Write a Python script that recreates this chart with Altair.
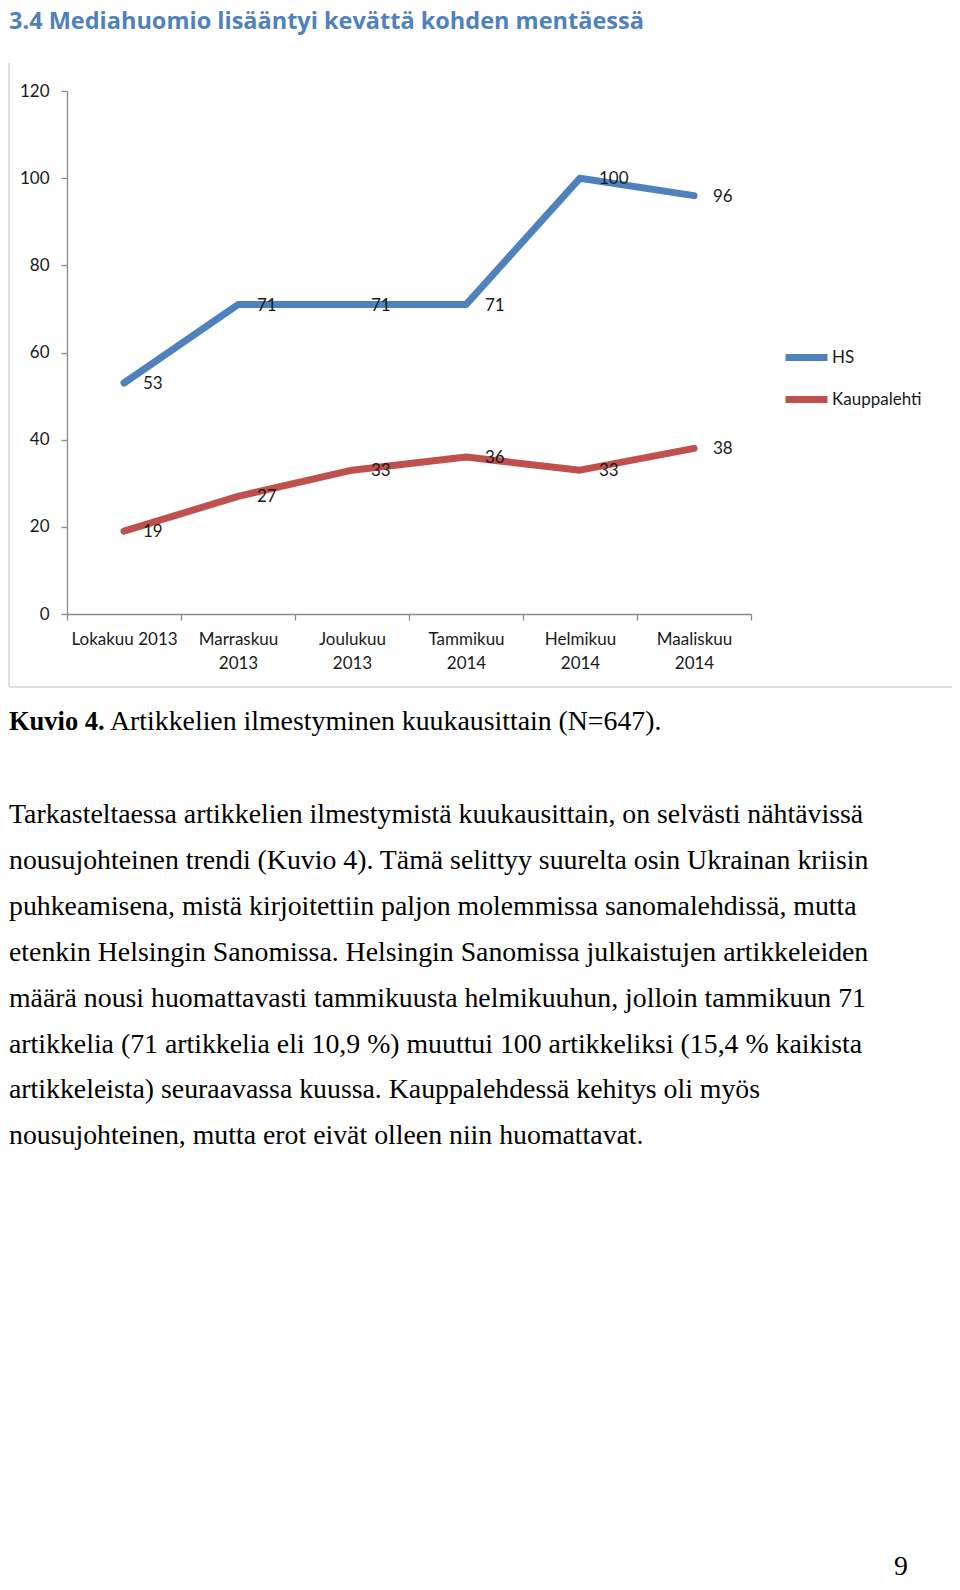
import altair as alt
import pandas as pd

# ---- data ----
months = ["Lokakuu 2013", "Marraskuu 2013", "Joulukuu 2013",
          "Tammikuu 2014", "Helmikuu 2014", "Maaliskuu 2014"]
hs_values = [53, 71, 71, 71, 100, 96]
kl_values = [19, 27, 33, 36, 33, 38]
series = ["HS", "Kauppalehti"]
colors = ["#4F81BD", "#C0504D"]
y_ticks = [0, 20, 40, 60, 80, 100, 120]

title_text = "3.4 Mediahuomio lisääntyi kevättä kohden mentäessä"
caption_bold = "Kuvio 4."
caption_rest = "Artikkelien ilmestyminen kuukausittain (N=647)."
paragraph = [
    "Tarkasteltaessa artikkelien ilmestymistä kuukausittain, on selvästi nähtävissä",
    "nousujohteinen trendi (Kuvio 4). Tämä selittyy suurelta osin Ukrainan kriisin",
    "puhkeamisena, mistä kirjoitettiin paljon molemmissa sanomalehdissä, mutta",
    "etenkin Helsingin Sanomissa. Helsingin Sanomissa julkaistujen artikkeleiden",
    "määrä nousi huomattavasti tammikuusta helmikuuhun, jolloin tammikuun 71",
    "artikkelia (71 artikkelia eli 10,9 %) muuttui 100 artikkeliksi (15,4 % kaikista",
    "artikkeleista) seuraavassa kuussa. Kauppalehdessä kehitys oli myös",
    "nousujohteinen, mutta erot eivät olleen niin huomattavat.",
]
page_number = "9"

df = pd.DataFrame(
    [{"month": m, "series": "HS", "value": v} for m, v in zip(months, hs_values)]
    + [{"month": m, "series": "Kauppalehti", "value": v} for m, v in zip(months, kl_values)]
)
one = pd.DataFrame({"k": [0]})

PLOT_W, PLOT_H = 684, 523
CHART_FONT = "Lato"
TITLE_FONT = "Open Sans"
BODY_FONT = "Liberation Serif"
BODY_SIZE = 27.8

x_enc = alt.X(
    "month:N", sort=months, title=None,
    scale=alt.Scale(type="band", paddingInner=0, paddingOuter=0),
    axis=alt.Axis(
        labelAngle=0, tickBand="extent", tickSize=6, labelPadding=11,
        labelBaseline="top", labelLineHeight=24, labelFontSize=17,
        labelColor="#1a1a1a", labelFont=CHART_FONT, domainColor="#8a8a8a",
        tickColor="#8a8a8a", domainWidth=1.3, tickWidth=1.3, grid=False,
        labelExpr="isValid(datum.value) ? (datum.value == 'Lokakuu 2013' ? datum.value : split(datum.value, ' ')) : ''",
    ),
)
y_enc = alt.Y(
    "value:Q", title=None,
    scale=alt.Scale(domain=[0, 120]),
    axis=alt.Axis(
        values=y_ticks, tickSize=6, labelPadding=12, labelFontSize=17,
        labelColor="#1a1a1a", labelFont=CHART_FONT, domainColor="#8a8a8a",
        tickColor="#8a8a8a", domainWidth=1.3, tickWidth=1.3, grid=False,
    ),
)
color_enc = alt.Color(
    "series:N", scale=alt.Scale(domain=series, range=colors), title=None,
    legend=alt.Legend(
        orient="none", legendX=715, legendY=242, symbolType="stroke",
        symbolStrokeWidth=7, symbolSize=1760, labelFont=CHART_FONT,
        labelFontSize=17, labelColor="#1a1a1a", padding=0, rowPadding=3,
        labelOffset=1,
    ),
)

base = alt.Chart(df)
lines = base.mark_line(strokeWidth=7, strokeCap="round", strokeJoin="round").encode(
    x=x_enc, y=y_enc, color=color_enc
)
labels = base.mark_text(
    align="left", baseline="middle", dx=19, dy=1, fontSize=17,
    font=CHART_FONT, color="#1a1a1a"
).encode(x=alt.X("month:N", sort=months), y="value:Q", text="value:Q")

# frame of the embedded figure
frame_left = alt.Chart(one).mark_rule(color="#d6d6d6", strokeWidth=1.5).encode(
    x=alt.value(-58), y=alt.value(-28), y2=alt.value(596)
)
frame_bottom = alt.Chart(one).mark_rule(color="#d6d6d6", strokeWidth=1.5).encode(
    x=alt.value(-58), x2=alt.value(889), y=alt.value(596)
)

title = alt.Chart(one).mark_text(
    align="left", baseline="alphabetic", font=TITLE_FONT, fontSize=23.5,
    fontWeight="bold", color="#4F81BD", text=title_text
).encode(x=alt.value(-58), y=alt.value(-62))

cap1 = alt.Chart(one).mark_text(
    align="left", baseline="alphabetic", font=BODY_FONT, fontSize=26.5,
    fontWeight="bold", color="#000000", text=caption_bold
).encode(x=alt.value(-58), y=alt.value(639))
cap2 = alt.Chart(one).mark_text(
    align="left", baseline="alphabetic", font=BODY_FONT, fontSize=BODY_SIZE,
    color="#000000", text=caption_rest
).encode(x=alt.value(43), y=alt.value(639))

para = alt.Chart(one).mark_text(
    align="left", baseline="alphabetic", font=BODY_FONT, fontSize=BODY_SIZE,
    color="#000000", lineHeight=45.9, text=paragraph
).encode(x=alt.value(-58), y=alt.value(732))

pagenum = alt.Chart(one).mark_text(
    align="left", baseline="alphabetic", font=BODY_FONT, fontSize=BODY_SIZE,
    color="#000000", text=page_number
).encode(x=alt.value(827), y=alt.value(1484))

chart = alt.layer(
    frame_left, frame_bottom, lines, labels, title, cap1, cap2, para, pagenum
).properties(
    width=PLOT_W, height=PLOT_H,
    autosize=alt.AutoSizeParams(type="none"),
    padding={"left": 59, "top": 83, "right": 201, "bottom": 968},
).configure(
    background="white", view=alt.ViewConfig(stroke=None)
)

chart.save("out.html", embed_options={"renderer": "svg", "actions": False})
